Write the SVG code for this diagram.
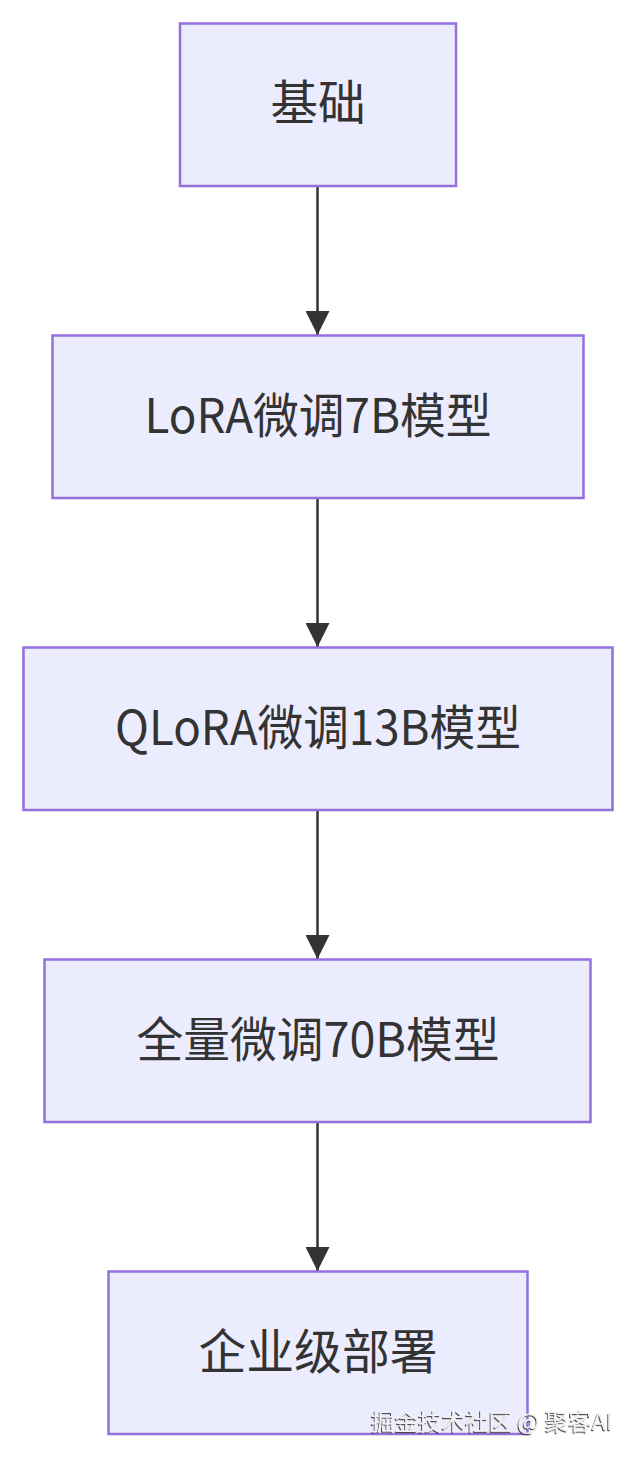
<svg xmlns="http://www.w3.org/2000/svg" width="636" height="1458" viewBox="0 0 636 1458">
<style>
.node rect{fill:#ECECFF;stroke:#9370DB;stroke-width:2.5}
.node text{font-family:"Noto Sans CJK SC","Noto Sans",sans-serif;font-size:48px;fill:#333;text-anchor:middle}
.edge{stroke:#333;stroke-width:2.5;fill:none}
.wm{font-family:"Noto Sans CJK SC","Noto Sans",sans-serif;font-size:23px;fill:#f2f2f2}
</style>
<defs>
<marker id="arrow" viewBox="0 0 24 24" markerWidth="24" markerHeight="24" refX="24" refY="12" orient="auto" markerUnits="userSpaceOnUse">
<path d="M0,0 L24,12 L0,24 z" fill="#333"/>
</marker>
<filter id="emb" x="-5%" y="-30%" width="110%" height="160%">
<feDropShadow dx="-1" dy="1.2" stdDeviation="0.6" flood-color="#333" flood-opacity="0.9"/>
</filter>
</defs>
<rect width="636" height="1458" fill="#fff"/>
<g id="connectors">
<path class="edge" d="M317.5,186 L317.5,335" marker-end="url(#arrow)"/>
<path class="edge" d="M317.5,498 L317.5,647" marker-end="url(#arrow)"/>
<path class="edge" d="M317.5,810 L317.5,959" marker-end="url(#arrow)"/>
<path class="edge" d="M317.5,1122 L317.5,1271" marker-end="url(#arrow)"/>
</g>
<g id="node1" class="node"><rect x="180" y="23.5" width="276" height="162.5"/><text x="318" y="120" textLength="95" lengthAdjust="spacingAndGlyphs">基础</text></g>
<g id="node2" class="node"><rect x="52.5" y="335.5" width="531" height="162.5"/><text x="318" y="433" textLength="347" lengthAdjust="spacingAndGlyphs">LoRA微调7B模型</text></g>
<g id="node3" class="node"><rect x="23.5" y="647.5" width="589" height="162.5"/><text x="318" y="745" textLength="406" lengthAdjust="spacingAndGlyphs">QLoRA微调13B模型</text></g>
<g id="node4" class="node"><rect x="44.5" y="959.5" width="546" height="162.5"/><text x="318" y="1057" textLength="363" lengthAdjust="spacingAndGlyphs">全量微调70B模型</text></g>
<g id="node5" class="node"><rect x="108.5" y="1271.5" width="419" height="162.5"/><text x="318" y="1369" textLength="239" lengthAdjust="spacingAndGlyphs">企业级部署</text></g>
<text class="wm" x="371" y="1430" textLength="242" lengthAdjust="spacingAndGlyphs" filter="url(#emb)">掘金技术社区 @ 聚客AI</text>
</svg>
